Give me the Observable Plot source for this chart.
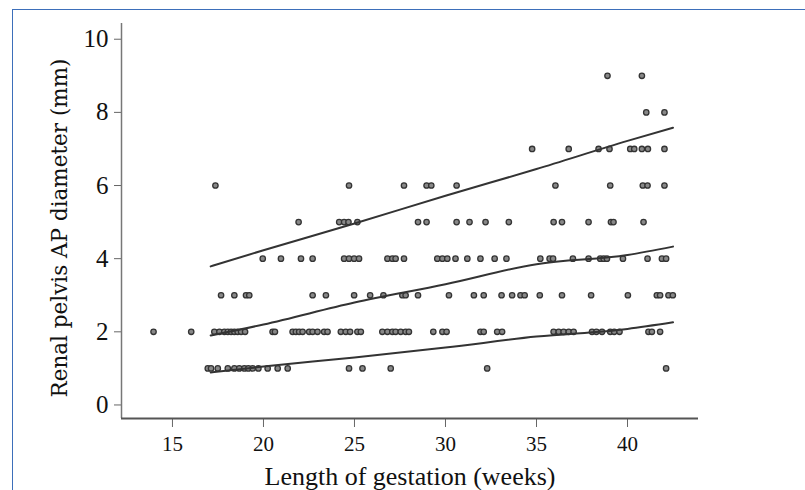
<!DOCTYPE html>
<html>
<head>
<meta charset="utf-8">
<script src="https://cdn.jsdelivr.net/npm/d3@7"></script>
<script src="https://cdn.jsdelivr.net/npm/@observablehq/plot@0.6"></script>
<style>
  html, body { margin: 0; padding: 0; background: #fff; }
  #wrap { position: relative; width: 805px; height: 490px; overflow: hidden; }
  #frame { position: absolute; left: 12px; top: 9px; width: 805px; height: 490px;
           border-left: 1.5px solid #3d6fba; border-top: 1.5px solid #3d6fba; }
  #chart { position: absolute; left: 0; top: 0; }
</style>
</head>
<body>
<div id="wrap"><div id="frame"></div><div id="chart"></div></div>
<script>
// Gestational age (weeks) of each measurement, grouped by renal pelvis AP diameter (mm)
const weeks1mm = [16.94, 17.12, 17.49, 18.04, 18.4, 18.67, 18.95, 19.17, 19.41, 19.72, 20.23, 20.78, 21.33, 24.7, 25.44, 26.99, 32.29, 42.12];
const weeks2mm = [13.96, 16.03, 17.3, 17.58, 17.85, 18.04, 18.22, 18.4, 18.58, 18.77, 18.99, 20.5, 20.63,
  21.6, 21.78, 21.96, 22.15, 22.51, 22.7, 22.97, 23.33, 23.52, 24.25, 24.52, 24.76, 25.16, 25.35,
  26.53, 26.81, 27.08, 27.26, 27.54, 27.81, 27.99, 29.33, 29.83, 30.06, 31.92, 32.1, 32.84, 33.11,
  35.94, 36.22, 36.49, 36.77, 37.04, 38.05, 38.29, 38.6, 39.05, 39.27, 39.56, 41.15, 41.34, 41.79];
const weeks3mm = [17.67, 18.4, 19.04, 19.22, 22.7, 23.43, 24.98, 25.86, 26.59, 27.63, 27.81, 28.49, 30.19,
  31.56, 32.1, 33.08, 33.66, 34.12, 34.35, 35.18, 36.4, 38.0, 40.02, 41.61, 41.79, 42.25, 42.49];
const weeks4mm = [19.96, 20.96, 22.06, 22.7, 24.43, 24.7, 24.98, 25.25, 26.81, 27.08, 27.26, 27.72, 29.55,
  29.83, 30.1, 30.55, 31.2, 31.92, 32.7, 33.35, 35.21, 35.72, 35.91, 37.0, 37.86, 38.5, 38.69, 38.87,
  39.75, 41.1, 41.89, 42.12];
const weeks5mm = [21.93, 24.16, 24.43, 24.67, 25.16, 28.49, 28.96, 30.61, 31.32, 32.2, 33.48, 35.94, 36.4,
  37.86, 39.09, 39.23, 40.88];
const weeks6mm = [17.36, 24.7, 27.72, 28.96, 29.22, 30.61, 36.04, 39.05, 40.84, 41.1, 42.03];
const weeks7mm = [34.76, 36.77, 38.41, 39.01, 40.15, 40.37, 40.79, 41.12, 42.03];
const weeks8mm = [41.03, 42.03];
const weeks9mm = [38.9, 40.79];

// Fitted reference curves (week, mm)
const curveWeeks = [17.1, 20, 25, 30, 35, 40, 42.5];
const upperCurve = [3.79, 4.23, 4.96, 5.72, 6.45, 7.22, 7.58];
const middleCurve = [1.9, 2.2, 2.8, 3.3, 3.85, 4.1, 4.33];
const lowerCurve = [0.89, 1.05, 1.3, 1.57, 1.87, 2.08, 2.26];

const xTicks = [15, 20, 25, 30, 35, 40];
const yTicks = [0, 2, 4, 6, 8, 10];
const xLabel = "Length of gestation (weeks)";
const yLabel = "Renal pelvis AP diameter (mm)";
const xDomain = [12.2, 43.9];
const yDomain = [-0.37, 10.43];

const groups = [weeks1mm, weeks2mm, weeks3mm, weeks4mm, weeks5mm, weeks6mm, weeks7mm, weeks8mm, weeks9mm];
const points = groups.flatMap((arr, i) => arr.map(w => ({week: w, mm: i + 1})));
const curves = [
  ["upper", upperCurve], ["middle", middleCurve], ["lower", lowerCurve]
].flatMap(([name, vals]) => vals.map((v, i) => ({curve: name, week: curveWeeks[i], mm: v})));

const serif = "'Liberation Serif', 'Times New Roman', serif";
const chart = Plot.plot({
  width: 805,
  height: 490,
  marginLeft: 121,
  marginRight: 107,
  marginTop: 23,
  marginBottom: 72,
  style: {background: "transparent", fontFamily: serif},
  x: {domain: xDomain},
  y: {domain: yDomain},
  marks: [
    Plot.axisY({ticks: yTicks, tickSize: 7, tickFormat: () => "", label: null, stroke: "#666"}),
    Plot.axisX({ticks: xTicks, tickSize: 9, tickFormat: () => "", label: null, stroke: "#666"}),
    Plot.text(yTicks, {x: xDomain[0], y: d => d, text: d => String(d), textAnchor: "end", dx: -13,
      fontSize: 25, fontFamily: serif, fill: "#111"}),
    Plot.text(xTicks, {x: d => d, y: yDomain[0], text: d => String(d), dy: 26,
      fontSize: 21, fontFamily: serif, fill: "#111"}),
    Plot.ruleX([xDomain[0]], {stroke: "#777", strokeWidth: 1.5}),
    Plot.ruleY([yDomain[0]], {stroke: "#555", strokeWidth: 2}),
    Plot.dot(points, {x: "week", y: "mm", r: 2.7, fill: "#888", stroke: "#333", strokeWidth: 1.3}),
    Plot.line(curves, {x: "week", y: "mm", z: "curve", curve: "monotone-x", stroke: "#333", strokeWidth: 2}),
    Plot.text([xLabel], {frameAnchor: "bottom", dy: 66, fontSize: 26, fontFamily: serif, fill: "#111"}),
    Plot.text([yLabel], {frameAnchor: "left", textAnchor: "middle", dx: -61, dy: 7, rotate: -90,
      fontSize: 21.5, fontFamily: "'DejaVu Serif', serif", fill: "#111"})
  ]
});
document.getElementById("chart").appendChild(chart);
</script>
</body>
</html>
